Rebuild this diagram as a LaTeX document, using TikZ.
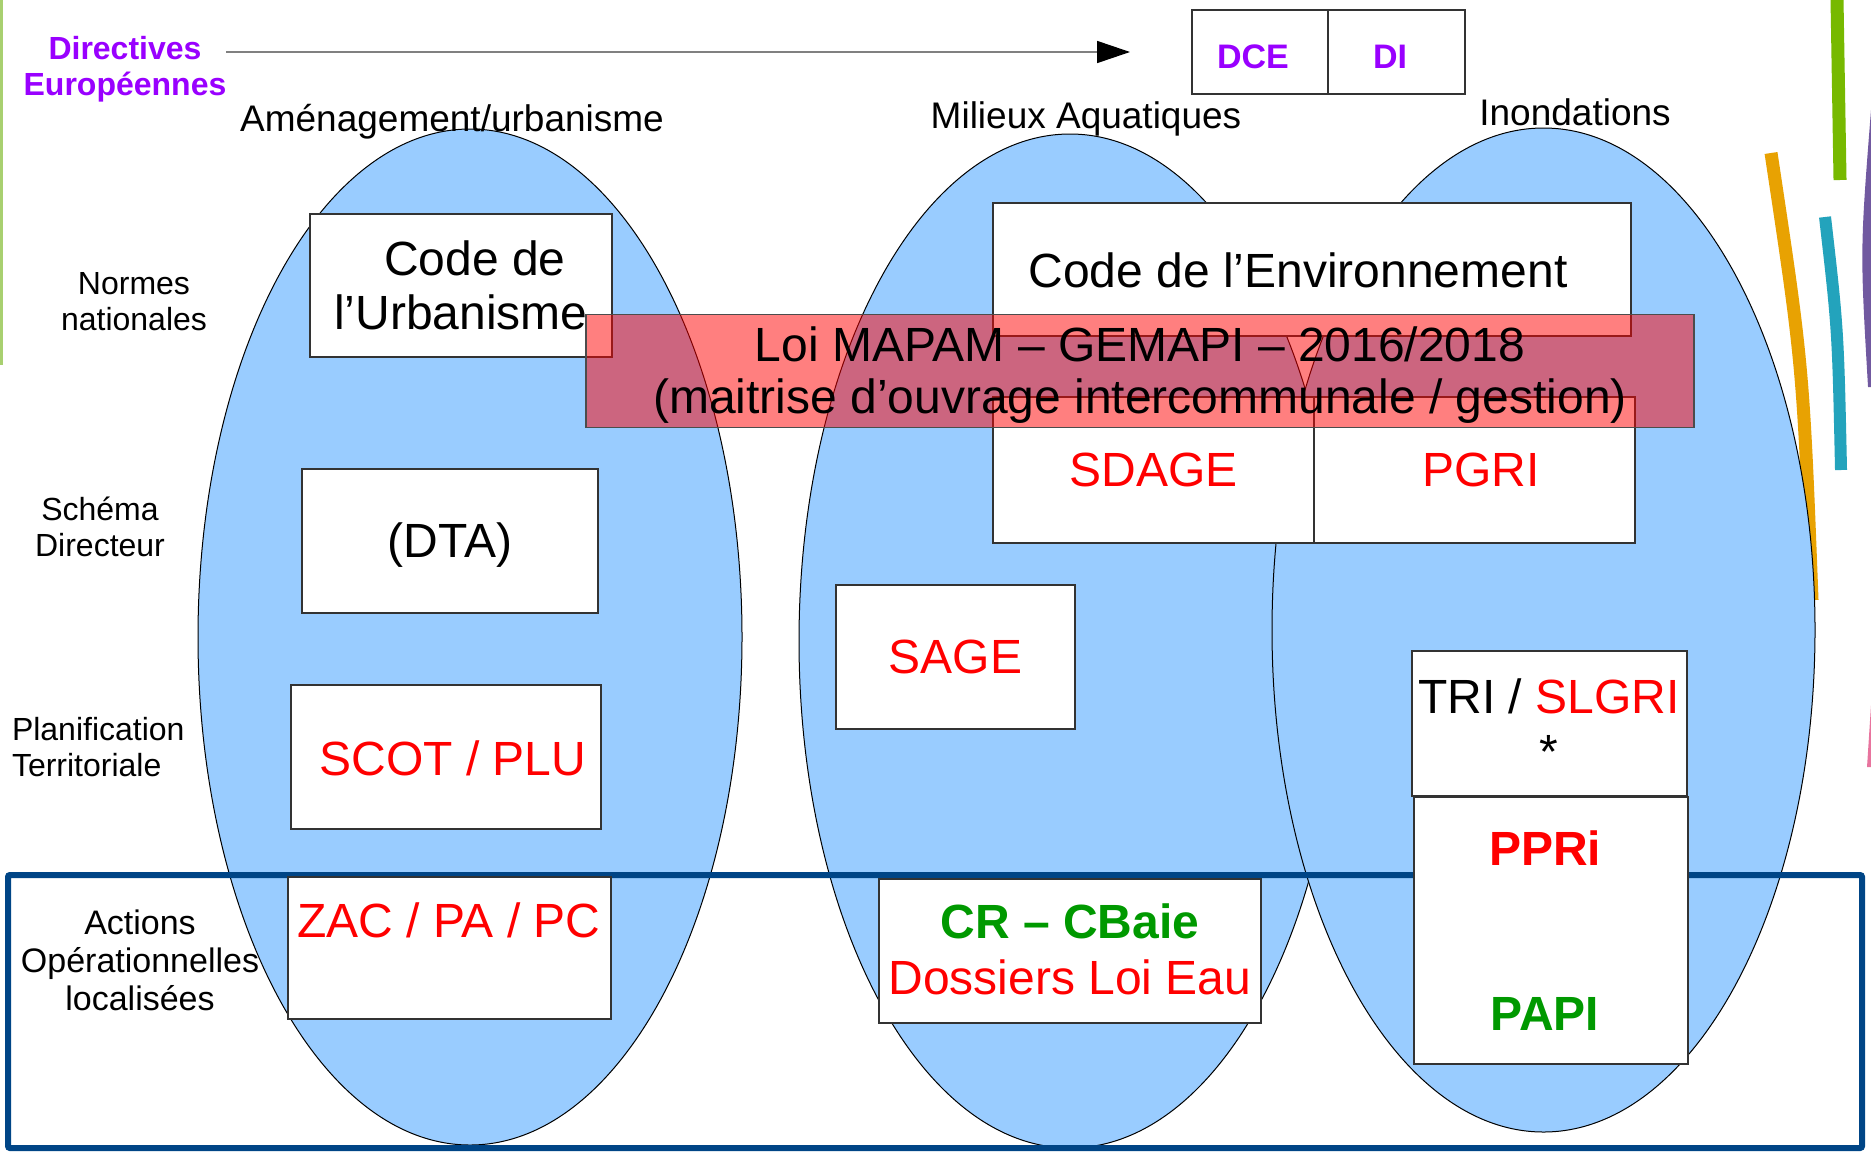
\documentclass[tikz,border=0pt]{standalone}
\usepackage{fontspec}
\setmainfont{Liberation Sans}
\usetikzlibrary{arrows.meta}
\definecolor{bleuciel}{HTML}{99CCFF}
\definecolor{rougetxt}{HTML}{FF0000}
\definecolor{verttxt}{HTML}{009900}
\definecolor{violetdir}{HTML}{9900FF}
\definecolor{bleucadre}{HTML}{004586}
\definecolor{vertdeco}{HTML}{77B900}
\definecolor{orangedeco}{HTML}{E8A202}
\definecolor{bleudeco}{HTML}{23A3BC}
\definecolor{violetdeco}{HTML}{7159A0}
\definecolor{rosedeco}{HTML}{E8749E}
\definecolor{vertclair}{HTML}{A8D070}
\begin{document}
\begin{tikzpicture}
            [
                x = 0.5pt,
                y = -0.5pt,
                every node/.style = {inner sep = 0pt, outer sep = 0pt},
                patate/.style = {fill = bleuciel, draw = black, line width = 0.5pt},
                boite/.style = {draw = black!80, fill = white, line width = 0.6pt},
                cadre/.style = {draw = bleucadre, line width = 3pt, rounded corners = 1pt},
                bande/.style = {
                    fill = red,
                    fill opacity = 0.5,
                    draw = black!70,
                    line width = 0.6pt
                },
                grand/.style = {font = \fontsize{24}{27}\selectfont},
                rouge/.style = {grand, text = rougetxt},
                rougegras/.style = {text = rougetxt, font = \bfseries\fontsize{24}{27}\selectfont},
                vertgras/.style = {text = verttxt, font = \bfseries\fontsize{24}{27}\selectfont},
                titre/.style = {font = \fontsize{18.5}{22}\selectfont},
                niveau/.style = {align = center, font = \fontsize{16}{18}\selectfont},
                directive/.style = {align = center, text = violetdir, font = \bfseries\fontsize{16}{18}\selectfont},
                fleche/.style = {draw = gray, line width = 0.8pt, -{Triangle[length = 16.5pt, width = 11pt, color = black]}},
            ]

                \clip (0,0) rectangle (1871,1151);

                \draw[line width = 1.5pt, color = vertclair] (1,0) -- (1,365);
                \draw[line width = 6.5pt, color = vertdeco] (1837,0) -- (1840,180);
                \draw[line width = 6.5pt, color = orangedeco] (1771,153) .. controls (1803,365) .. (1812,600);
                \draw[line width = 6pt, color = bleudeco] (1825,217) .. controls (1838,330) .. (1841,470);
                \fill[violetdeco] (1871,110) .. controls (1860,250) .. (1868,387) -- (1871,387) -- cycle;
                \fill[rosedeco] (1871,705) -- (1867,767) -- (1871,767) -- cycle;

                \draw[patate] (470,637) ellipse [x radius = 136pt, y radius = 254pt];
                \draw[patate] (1070,641) ellipse [x radius = 135.5pt, y radius = 253.5pt];
                \draw[patate] (1543.5,630) ellipse [x radius = 135.75pt, y radius = 251pt];

                \draw[cadre] (8,875) rectangle (1862,1148);

                \node[boite, minimum width = 68pt, minimum height = 42pt] (dce) at (1260,52) {};
                \node[boite, minimum width = 68.5pt, minimum height = 42pt] (di) at (1396.5,52) {};
                \node[directive, font = \bfseries\fontsize{17}{20}\selectfont] (dcetxt) at (1253,57) {DCE};
                \node[directive, font = \bfseries\fontsize{17}{20}\selectfont] (ditxt) at (1390,57) {DI};

                \node[boite, grand, align = center, minimum width = 151pt, minimum height = 71.5pt]
                    (urbanisme) at (461,285.5) {\hspace*{14pt}Code de\\l’Urbanisme};
                \node[boite, minimum width = 148pt, minimum height = 72pt] (dta) at (450,541) {};
                \node[grand] (dtatxt) at (450,545) {(DTA)};
                \node[boite, minimum width = 155pt, minimum height = 72pt] (scot) at (446,757) {};
                \node[rouge] (scottxt) at (453,758) {SCOT / PLU};
                \node[boite, minimum width = 161.5pt, minimum height = 71pt] (zac) at (449.5,948) {};
                \node[rouge] (zactxt) at (449,920) {ZAC / PA / PC};

                \node[boite, minimum width = 319pt, minimum height = 66.5pt] (environnement) at (1312,269.5) {};
                \node[grand] (envtxt) at (1298,270) {Code de l’Environnement};
                \node[boite, rouge, minimum width = 160.5pt, minimum height = 73pt] (sdage) at (1153.5,470) {SDAGE};
                \node[boite, minimum width = 160.5pt, minimum height = 73pt] (pgri) at (1474.5,470) {};
                \node[rouge] (pgritxt) at (1481,470) {PGRI};
                \node[boite, rouge, minimum width = 119.5pt, minimum height = 72pt] (sage) at (955.5,657) {SAGE};
                \node[boite, minimum width = 191pt, minimum height = 72pt] (cr) at (1070,951) {};
                \node[vertgras] (crtxt) at (1070,921) {CR – CBaie};
                \node[rouge] (dossiers) at (1070,977) {Dossiers Loi Eau};

                \node[boite, minimum width = 137.5pt, minimum height = 72.5pt] (tri) at (1549.5,723.5) {};
                \node[grand] (tritxt) at (1549,696) {TRI / \textcolor{rougetxt}{SLGRI}};
                \node[grand] (etoile) at (1549,752) {*};
                \node[boite, minimum width = 137pt, minimum height = 133.5pt] (ppri) at (1551,930.5) {};
                \node[rougegras] (ppritxt) at (1545,848) {PPRi};
                \node[vertgras] (papi) at (1545,1014) {PAPI};

                \node[bande, minimum width = 554pt, minimum height = 56.5pt] (mapam) at (1140,371) {};
                \node[align = center, font = \fontsize{24}{26}\selectfont] (mapamtxt) at (1140,375)
                    {Loi MAPAM – GEMAPI – 2016/2018\\(maitrise d’ouvrage intercommunale / gestion)};

                \node[niveau] (normes) at (134,302) {Normes\\nationales};
                \node[niveau] (schema) at (100,527) {Schéma\\Directeur};
                \node[niveau, align = left, anchor = west] (planif) at (12,747) {Planification\\Territoriale};
                \node[niveau, font = \fontsize{17}{19}\selectfont] (actions) at (140,960)
                    {Actions\\Opérationnelles\\localisées};

                \node[titre] (amenag) at (452,122) {Aménagement/urbanisme};
                \node[titre] (milieux) at (1086,119) {Milieux Aquatiques};
                \node[titre] (inond) at (1575,112) {Inondations};

                \node[directive] (directives) at (125,69) {Directives\\Européennes};
                \draw[fleche] (directives.east |- dce.west) -- ([xshift = -31pt]dce.west);
            \end{tikzpicture}
\end{document}
